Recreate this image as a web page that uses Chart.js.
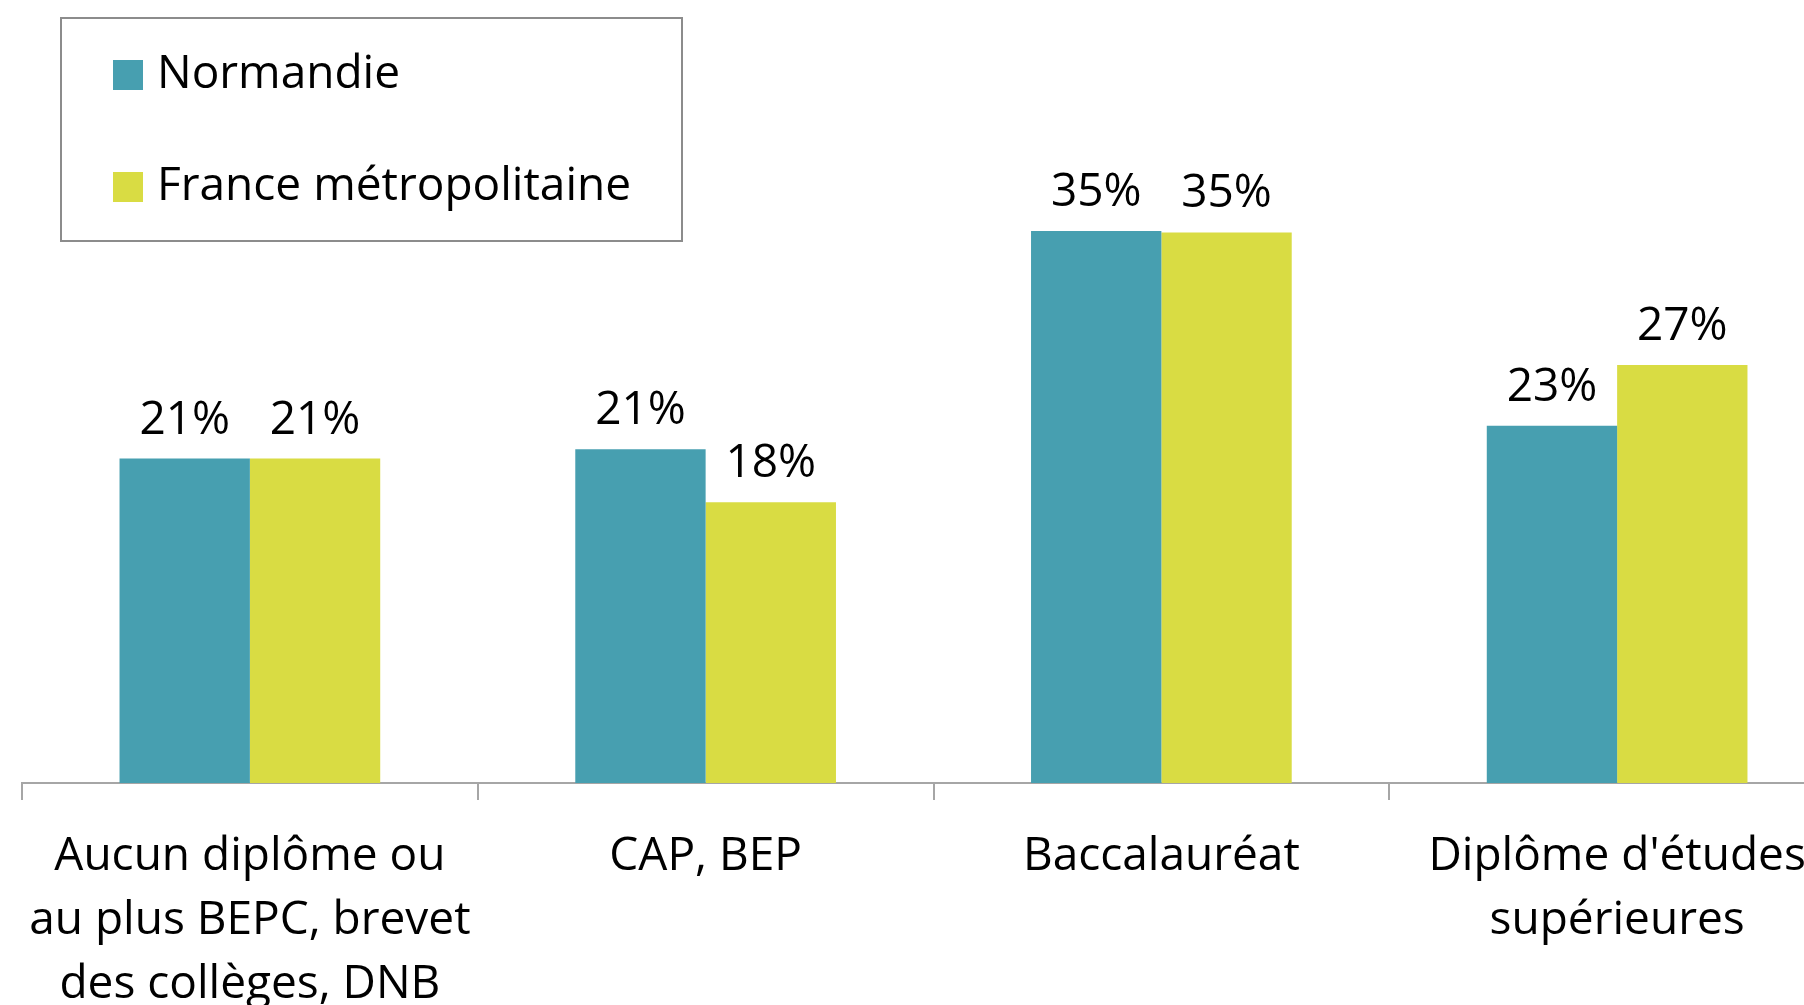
<!DOCTYPE html>
<html>
<head>
<meta charset="utf-8">
<script src="https://cdn.jsdelivr.net/npm/chart.js@4"></script>
<style>
  html, body { margin: 0; padding: 0; background: #fff; overflow: hidden; width: 1804px; height: 1005px; }
  #chart { display: block; }
</style>
</head>
<body>
<canvas id="chart" width="1870" height="1005"></canvas>
<script>
// catégories (axe X)
const categories = [
  ["Aucun diplôme ou", "au plus BEPC, brevet", "des collèges, DNB"],
  ["CAP, BEP"],
  ["Baccalauréat"],
  ["Diplôme d'études", "supérieures"]
];
const seriesNames = ["Normandie", "France métropolitaine"];

const normandie = [20.8, 21.4, 35.4, 22.9];
const france = [20.8, 18.0, 35.3, 26.8];

const FONT = "'Open Sans', sans-serif";
const FONT_SIZE = 46;

// étiquettes de valeurs au-dessus des barres
const valueLabels = {
  id: "valueLabels",
  afterDatasetsDraw(chart) {
    const ctx = chart.ctx;
    ctx.save();
    ctx.font = FONT_SIZE + "px " + FONT;
    ctx.fillStyle = "#000";
    ctx.textAlign = "center";
    ctx.textBaseline = "alphabetic";
    chart.data.datasets.forEach((ds, i) => {
      const meta = chart.getDatasetMeta(i);
      meta.data.forEach((bar, j) => {
        ctx.fillText(Math.round(ds.data[j]) + "%", bar.x, bar.y - 25);
      });
    });
    ctx.restore();
  }
};

// légende encadrée en haut à gauche
const boxLegend = {
  id: "boxLegend",
  afterDraw(chart) {
    const ctx = chart.ctx;
    ctx.save();
    ctx.strokeStyle = "#8c8c8c";
    ctx.lineWidth = 2;
    ctx.strokeRect(61, 18, 621, 223);
    ctx.font = FONT_SIZE + "px " + FONT;
    ctx.textBaseline = "middle";
    ctx.textAlign = "left";
    chart.data.datasets.forEach((ds, i) => {
      const cy = 75 + i * 112;
      ctx.fillStyle = ds.backgroundColor;
      ctx.fillRect(113, cy - 15, 30, 30);
      ctx.fillStyle = "#000";
      ctx.fillText(ds.label, 157, cy);
    });
    ctx.restore();
  }
};

new Chart(document.getElementById("chart").getContext("2d"), {
  type: "bar",
  data: {
    labels: categories,
    datasets: [
      {
        label: seriesNames[0],
        data: normandie,
        backgroundColor: "#479fb0",
        borderWidth: 0
      },
      {
        label: seriesNames[1],
        data: france,
        backgroundColor: "#d9dc43",
        borderWidth: 0
      }
    ]
  },
  options: {
    responsive: false,
    animation: false,
    devicePixelRatio: 1,
    layout: { padding: { top: 128, left: 22, right: 25, bottom: 0 } },
    datasets: {
      bar: { categoryPercentage: 0.572, barPercentage: 1.0 }
    },
    plugins: {
      legend: { display: false },
      tooltip: { enabled: false }
    },
    scales: {
      y: {
        display: false,
        min: 0,
        max: 42
      },
      x: {
        afterFit(scale) { scale.height = 222; },
        grid: {
          display: true,
          offset: true,
          drawOnChartArea: false,
          drawTicks: true,
          tickLength: 17,
          color: "#a6a6a6",
          lineWidth: 2
        },
        border: { display: true, color: "#a6a6a6", width: 2 },
        ticks: {
          color: "#000",
          padding: 25,
          maxRotation: 0,
          autoSkip: false,
          font: { family: FONT, size: FONT_SIZE, lineHeight: "64px" }
        }
      }
    }
  },
  plugins: [valueLabels, boxLegend]
});
</script>
</body>
</html>
